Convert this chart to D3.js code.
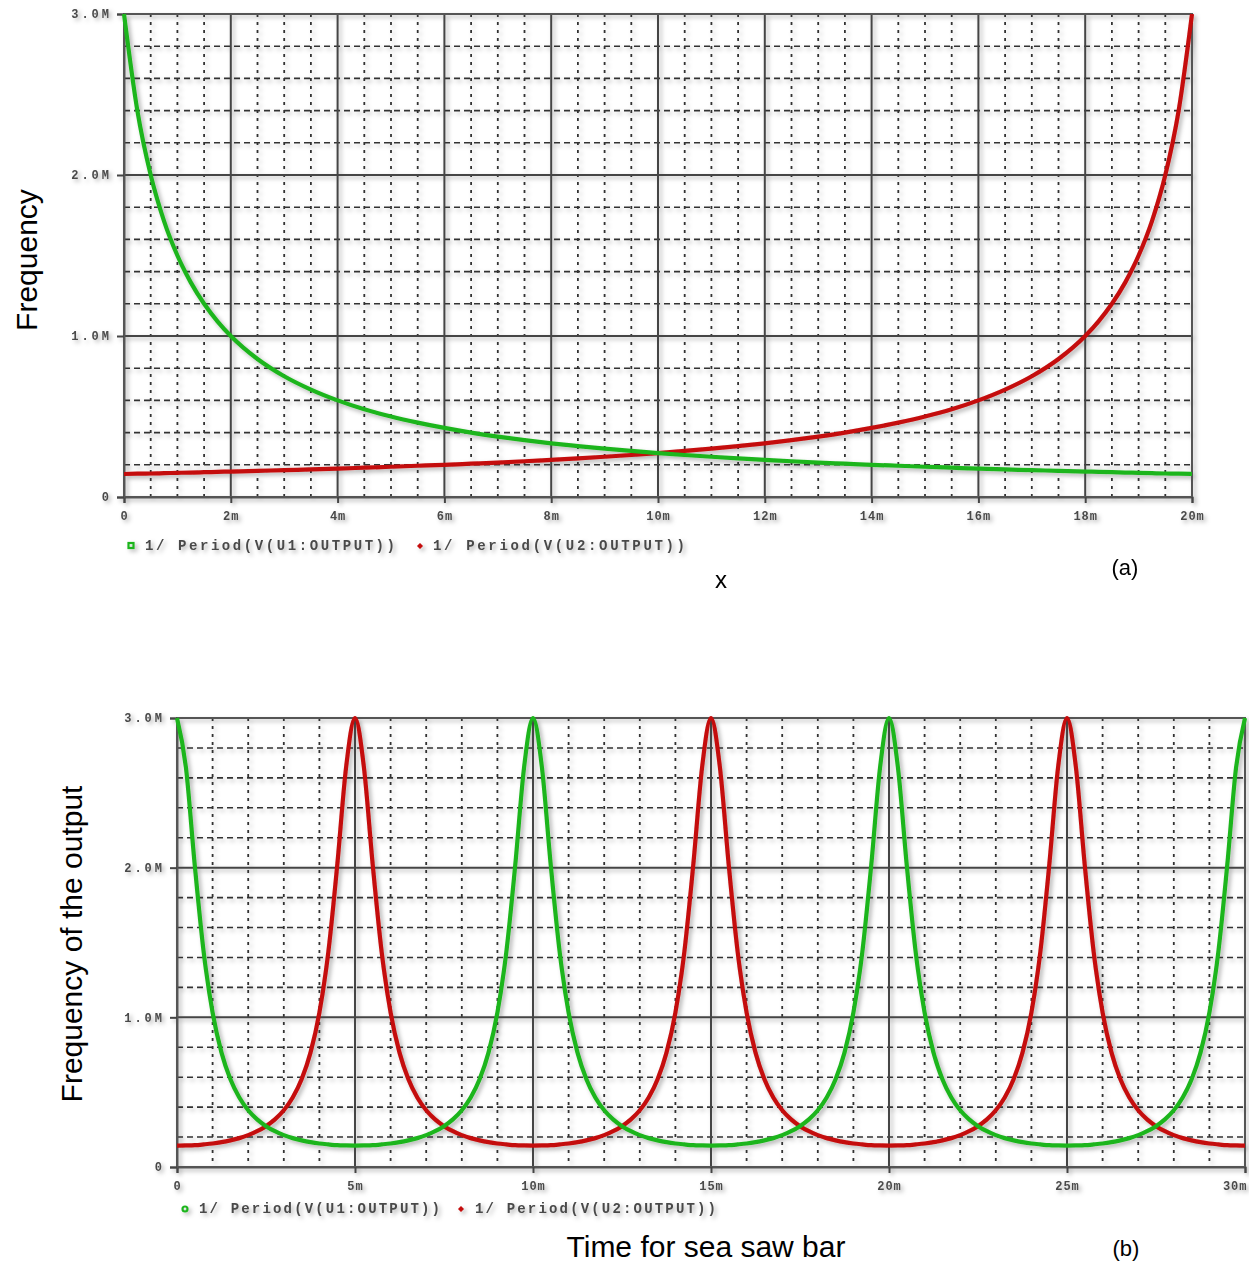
<!DOCTYPE html>
<html>
<head>
<meta charset="utf-8">
<script src="https://cdn.jsdelivr.net/npm/d3@7"></script>
<style>
  html, body { margin: 0; padding: 0; background: #fff; }
  svg { display: block; }
</style>
</head>
<body>
<svg id="chart" width="1249" height="1264"></svg>
<script>
// ---------------- DATA ----------------
// Chart (a): frequency vs position x (m)
const aX = [0,0.25,0.5,0.75,1,1.25,1.5,1.75,2,
  2.5,3,3.5,4,4.5,5,5.5,6,6.5,7,7.5,8,8.5,9,9.5,10,10.5,11,11.5,12,12.5,13,13.5,14,14.5,15,15.5,16,16.5,17,17.5,
  18,18.25,18.5,18.75,19,19.25,19.5,19.75,20];
const aGreen = [3.000,2.400,2.000,1.714,1.500,1.333,1.200,1.091,1.000,
  0.857,0.750,0.667,0.600,0.545,0.500,0.462,0.429,0.400,0.375,0.353,0.333,0.316,0.300,0.286,0.273,0.261,0.250,0.240,0.231,0.222,0.214,0.207,0.200,0.194,0.188,0.182,0.176,0.171,0.167,0.162,
  0.158,0.156,0.154,0.152,0.150,0.148,0.146,0.145,0.143];
const aRed = [0.143,0.145,0.146,0.148,0.150,0.152,0.154,0.156,0.158,
  0.162,0.167,0.171,0.176,0.182,0.188,0.194,0.200,0.207,0.214,0.222,0.231,0.240,0.250,0.261,0.273,0.286,0.300,0.316,0.333,0.353,0.375,0.400,0.429,0.462,0.500,0.545,0.600,0.667,0.750,0.857,
  1.000,1.091,1.200,1.333,1.500,1.714,2.000,2.400,3.000];
const aXTicks = [0,2,4,6,8,10,12,14,16,18,20];
const aXTickLabels = ["0","2m","4m","6m","8m","10m","12m","14m","16m","18m","20m"];
const yTicks = [0,1,2,3];
const yTickLabels = ["0","1.0M","2.0M","3.0M"];

// Chart (b): frequency vs time (m = ms)
const bT = [0,0.25,0.5,0.75,1,1.25,1.5,1.75,2,2.25,2.5,2.75,3,3.25,3.5,3.75,4,4.25,4.5,4.75,
  5,5.25,5.5,5.75,6,6.25,6.5,6.75,7,7.25,7.5,7.75,8,8.25,8.5,8.75,9,9.25,9.5,9.75,
  10,10.25,10.5,10.75,11,11.25,11.5,11.75,12,12.25,12.5,12.75,13,13.25,13.5,13.75,14,14.25,14.5,14.75,
  15,15.25,15.5,15.75,16,16.25,16.5,16.75,17,17.25,17.5,17.75,18,18.25,18.5,18.75,19,19.25,19.5,19.75,
  20,20.25,20.5,20.75,21,21.25,21.5,21.75,22,22.25,22.5,22.75,23,23.25,23.5,23.75,24,24.25,24.5,24.75,
  25,25.25,25.5,25.75,26,26.25,26.5,26.75,27,27.25,27.5,27.75,28,28.25,28.5,28.75,29,29.25,29.5,29.75,30];
const bGreen = [
  3.000,2.671,2.014,1.435,1.031,0.764,0.586,0.464,0.379,0.318,0.273,0.239,0.213,0.193,0.178,0.166,0.157,0.151,0.146,0.144,
  0.143,0.144,0.146,0.151,0.157,0.166,0.178,0.193,0.213,0.239,0.273,0.318,0.379,0.464,0.586,0.764,1.031,1.435,2.014,2.671,
  3.000,2.671,2.014,1.435,1.031,0.764,0.586,0.464,0.379,0.318,0.273,0.239,0.213,0.193,0.178,0.166,0.157,0.151,0.146,0.144,
  0.143,0.144,0.146,0.151,0.157,0.166,0.178,0.193,0.213,0.239,0.273,0.318,0.379,0.464,0.586,0.764,1.031,1.435,2.014,2.671,
  3.000,2.671,2.014,1.435,1.031,0.764,0.586,0.464,0.379,0.318,0.273,0.239,0.213,0.193,0.178,0.166,0.157,0.151,0.146,0.144,
  0.143,0.144,0.146,0.151,0.157,0.166,0.178,0.193,0.213,0.239,0.273,0.318,0.379,0.464,0.586,0.764,1.031,1.435,2.014,2.671,
  3.000];
const bRed = [
  0.143,0.144,0.146,0.151,0.157,0.166,0.178,0.193,0.213,0.239,0.273,0.318,0.379,0.464,0.586,0.764,1.031,1.435,2.014,2.671,
  3.000,2.671,2.014,1.435,1.031,0.764,0.586,0.464,0.379,0.318,0.273,0.239,0.213,0.193,0.178,0.166,0.157,0.151,0.146,0.144,
  0.143,0.144,0.146,0.151,0.157,0.166,0.178,0.193,0.213,0.239,0.273,0.318,0.379,0.464,0.586,0.764,1.031,1.435,2.014,2.671,
  3.000,2.671,2.014,1.435,1.031,0.764,0.586,0.464,0.379,0.318,0.273,0.239,0.213,0.193,0.178,0.166,0.157,0.151,0.146,0.144,
  0.143,0.144,0.146,0.151,0.157,0.166,0.178,0.193,0.213,0.239,0.273,0.318,0.379,0.464,0.586,0.764,1.031,1.435,2.014,2.671,
  3.000,2.671,2.014,1.435,1.031,0.764,0.586,0.464,0.379,0.318,0.273,0.239,0.213,0.193,0.178,0.166,0.157,0.151,0.146,0.144,
  0.143];
const bXTicks = [0,5,10,15,20,25,30];
const bXTickLabels = ["0","5m","10m","15m","20m","25m","30m"];

const legendLabels = ["1/  Period(V(U1:OUTPUT))", "1/  Period(V(U2:OUTPUT))"];

// ---------------- DRAW ----------------
const svg = d3.select("#chart");
const defs = svg.append("defs");
const sh = defs.append("filter").attr("id", "shadow").attr("x", "-5%").attr("y", "-5%").attr("width", "110%").attr("height", "110%");
sh.append("feDropShadow").attr("dx", 2.5).attr("dy", 2.5).attr("stdDeviation", 2)
  .attr("flood-color", "#000").attr("flood-opacity", 0.3);
const soft = defs.append("filter").attr("id", "soft");
soft.append("feGaussianBlur").attr("stdDeviation", 0.4);

const GREEN = "#1fb51f", RED = "#c40a0a", GRID = "#333";
const MONO = "'Liberation Mono', 'DejaVu Sans Mono', monospace";

function drawChart(o) {
  const x = d3.scaleLinear().domain(o.xDomain).range([o.left, o.right]);
  const y = d3.scaleLinear().domain([0, 3]).range([o.bottom, o.top]);
  const g = svg.append("g").attr("filter", "url(#shadow)");

  // minor grid
  const minorX = d3.range(o.xDomain[0], o.xDomain[1] + 1e-9, o.minorX).filter(v => !o.xTicks.some(t => Math.abs(t - v) < 1e-9));
  const minorY = d3.range(0, 3 + 1e-9, 0.2).filter(v => Math.abs(v - Math.round(v)) > 1e-6);
  g.append("g").selectAll("line").data(minorX).join("line")
    .attr("x1", d => x(d)).attr("x2", d => x(d)).attr("y1", o.top).attr("y2", o.bottom)
    .attr("stroke", GRID).attr("stroke-width", 1.8).attr("stroke-dasharray", "3,5");
  g.append("g").selectAll("line").data(minorY).join("line")
    .attr("x1", o.left).attr("x2", o.right).attr("y1", d => y(d)).attr("y2", d => y(d))
    .attr("stroke", GRID).attr("stroke-width", 1.6).attr("stroke-dasharray", "6,4");

  // major grid
  g.append("g").selectAll("line").data(o.xTicks).join("line")
    .attr("x1", d => x(d)).attr("x2", d => x(d)).attr("y1", o.top).attr("y2", o.bottom)
    .attr("stroke", "#444").attr("stroke-width", 2);
  g.append("g").selectAll("line").data(yTicks).join("line")
    .attr("x1", o.left).attr("x2", o.right).attr("y1", d => y(d)).attr("y2", d => y(d))
    .attr("stroke", "#444").attr("stroke-width", 2);
  g.append("rect").attr("x", o.left).attr("y", o.top)
    .attr("width", o.right - o.left).attr("height", o.bottom - o.top)
    .attr("fill", "none").attr("stroke", "#555").attr("stroke-width", 2);

  // axes
  const xAxis = d3.axisBottom(x).tickValues(o.xTicks).tickSize(6).tickPadding(8)
    .tickFormat((d, i) => o.xLabels[i]);
  const gx = g.append("g").attr("transform", `translate(0,${o.bottom})`).call(xAxis);
  const yAxis = d3.axisLeft(y).tickValues(yTicks).tickSize(7).tickPadding(5)
    .tickFormat((d, i) => yTickLabels[i]);
  const gy = g.append("g").attr("transform", `translate(${o.left},0)`).call(yAxis);
  [gx, gy].forEach(a => {
    a.select(".domain").attr("stroke", "#555").attr("stroke-width", 2);
    a.selectAll(".tick line").attr("stroke", "#444").attr("stroke-width", 2);
    a.selectAll(".tick text").attr("fill", "#4a4a4a")
      .style("font-family", MONO)
      .style("font-weight", "bold").style("font-size", "12px").attr("filter", "url(#soft)");
  });
  gx.selectAll(".tick text").style("letter-spacing", "1px");
  gy.selectAll(".tick text").style("letter-spacing", "3px");
  if (o.lastLabelEnd) {
    gx.selectAll(".tick text").filter((d, i, n) => i === n.length - 1)
      .attr("text-anchor", "end").attr("dx", 2);
  }

  // curves
  const line = d3.line().x(d => x(d[0])).y(d => y(d[1])).curve(d3.curveMonotoneX);
  g.append("path").datum(o.xs.map((v, i) => [v, o.red[i]]))
    .attr("d", line).attr("fill", "none").attr("stroke", RED).attr("stroke-width", 4.2).attr("stroke-linejoin", "round");
  g.append("path").datum(o.xs.map((v, i) => [v, o.green[i]]))
    .attr("d", line).attr("fill", "none").attr("stroke", GREEN).attr("stroke-width", 4.2).attr("stroke-linejoin", "round");

  // legend
  const lg = g.append("g");
  lg.append(o.legendShape === "circle" ? "circle" : "rect")
    .call(s => {
      if (o.legendShape === "circle") s.attr("cx", o.leg[0].mx).attr("cy", o.legY + 1).attr("r", 2.5);
      else s.attr("x", o.leg[0].mx - 2.5).attr("y", o.legY - 2).attr("width", 5).attr("height", 5);
    })
    .attr("fill", "none").attr("stroke", GREEN).attr("stroke-width", 2.2);
  lg.append("path")
    .attr("d", `M${o.leg[1].mx},${o.legY - 2} l3,3 l-3,3 l-3,-3 z`)
    .attr("fill", RED);
  legendLabels.forEach((t, i) => {
    lg.append("text").attr("x", o.leg[i].tx).attr("y", o.legY + 5)
      .attr("textLength", o.leg[i].tw).attr("lengthAdjust", "spacing")
      .attr("fill", "#4a4a4a").attr("filter", "url(#soft)")
      .style("font-family", MONO)
      .style("font-weight", "bold").style("font-size", "14px")
      .text(t);
  });
}

drawChart({
  xDomain: [0, 20], left: 124, right: 1192, top: 14, bottom: 497,
  xTicks: aXTicks, xLabels: aXTickLabels, minorX: 0.5,
  xs: aX, green: aGreen, red: aRed,
  legendShape: "rect", legY: 545,
  leg: [{ mx: 131, tx: 145, tw: 250 }, { mx: 420, tx: 433, tw: 252 }]
});

drawChart({
  xDomain: [0, 30], left: 177, right: 1245, top: 718, bottom: 1167,
  xTicks: bXTicks, xLabels: bXTickLabels, minorX: 1, lastLabelEnd: true,
  xs: bT, green: bGreen, red: bRed,
  legendShape: "circle", legY: 1208,
  leg: [{ mx: 185, tx: 199, tw: 241 }, { mx: 461, tx: 475, tw: 241 }]
});

// titles
const titleFont = "'Liberation Sans', Arial, sans-serif";
function title(txt, x, y, size, rot) {
  const t = svg.append("text").attr("text-anchor", "middle")
    .attr("fill", "#000").style("font-family", titleFont).style("font-size", size + "px").text(txt);
  if (rot) t.attr("transform", `translate(${x},${y}) rotate(-90)`);
  else t.attr("x", x).attr("y", y);
}
title("Frequency", 37, 260, 30, true);
title("x", 721, 588, 24, false);
title("(a)", 1125, 575, 22, false);
title("Frequency of the output", 82, 944, 30, true);
title("Time for sea saw bar", 706, 1257, 30, false);
title("(b)", 1126, 1256, 22, false);
</script>
</body>
</html>
